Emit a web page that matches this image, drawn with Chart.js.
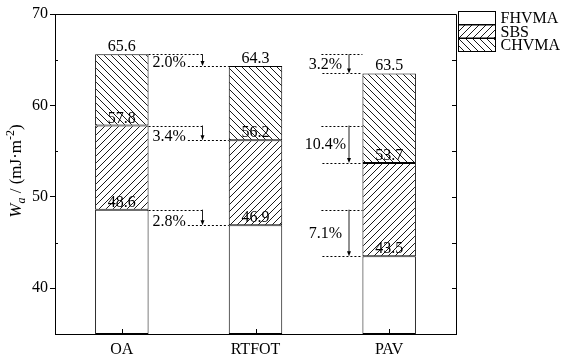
<!DOCTYPE html>
<html>
<head>
<meta charset="utf-8">
<script src="https://cdn.jsdelivr.net/npm/chart.js@4/dist/chart.umd.min.js"></script>
<style>
  html, body { margin: 0; padding: 0; background: #fff; }
  #wrap { width: 562px; height: 357px; position: relative; }
</style>
</head>
<body>
<div id="wrap"><canvas id="c"></canvas></div>
<script>
// Surface free energy components by ageing state
const categories = ['OA', 'RTFOT', 'PAV'];
const seriesNames = ['FHVMA', 'SBS', 'CHVMA'];
// cumulative height at the top of each layer (mJ·m^-2)
const fhvmaTop = [48.6, 46.9, 43.5];
const sbsTop   = [57.8, 56.2, 53.7];
const chvmaTop = [65.6, 64.3, 63.5];
const axisMin = 35;
const axisMax = 70;
const yTickValues = [40, 50, 60, 70];
// reduction relative to OA, per layer (FHVMA, SBS, CHVMA)
const rtfotChange = ['2.8%', '3.4%', '2.0%'];
const pavChange   = ['7.1%', '10.4%', '3.2%'];

const FONT = '"Liberation Serif", "Times New Roman", serif';
const layerTops = [fhvmaTop, sbsTop, chvmaTop];

function hatch(dir) {
  const s = 7;
  const cv = document.createElement('canvas');
  cv.width = s; cv.height = s;
  const g = cv.getContext('2d');
  g.fillStyle = '#fff';
  g.fillRect(0, 0, s, s);
  g.strokeStyle = '#000';
  g.lineWidth = 0.9;
  g.beginPath();
  if (dir === '/') {
    g.moveTo(-1, s + 1); g.lineTo(s + 1, -1);
    g.moveTo(-1, 1); g.lineTo(1, -1);
    g.moveTo(s - 1, s + 1); g.lineTo(s + 1, s - 1);
  } else {
    g.moveTo(-1, -1); g.lineTo(s + 1, s + 1);
    g.moveTo(-1, s - 1); g.lineTo(1, s + 1);
    g.moveTo(s - 1, -1); g.lineTo(s + 1, 1);
  }
  g.stroke();
  return g.createPattern(cv, 'repeat');
}

const fills = ['#ffffff', hatch('/'), hatch('\\')];
const lowers = [categories.map(() => axisMin), fhvmaTop, sbsTop];

const datasets = seriesNames.map((name, k) => ({
  label: name,
  data: categories.map((c, i) => [lowers[k][i], layerTops[k][i]]),
  backgroundColor: fills[k],
  borderColor: '#000',
  borderWidth: 1,
  borderSkipped: false,
  grouped: false,
  barPercentage: 0.4,
  categoryPercentage: 1.0
}));

function arrowDown(ctx, x, y0, y1) {
  ctx.save();
  ctx.setLineDash([]);
  ctx.strokeStyle = '#222';
  ctx.lineWidth = 1;
  ctx.beginPath();
  ctx.moveTo(x, y0);
  ctx.lineTo(x, y1 - 3);
  ctx.stroke();
  ctx.fillStyle = '#000';
  ctx.beginPath();
  ctx.moveTo(x - 2, y1 - 5);
  ctx.lineTo(x + 2, y1 - 5);
  ctx.lineTo(x, y1);
  ctx.closePath();
  ctx.fill();
  ctx.restore();
}

function dotted(ctx, x0, x1, y) {
  ctx.save();
  ctx.strokeStyle = '#000';
  ctx.lineWidth = 1;
  ctx.setLineDash([2, 2]);
  ctx.beginPath();
  ctx.moveTo(x0, Math.round(y) + 0.5);
  ctx.lineTo(x1, Math.round(y) + 0.5);
  ctx.stroke();
  ctx.restore();
}

const decorations = {
  id: 'decorations',
  afterDatasetsDraw(chart) {
    const ctx = chart.ctx;
    const ys = chart.scales.y;
    const xs = chart.scales.x;
    const area = chart.chartArea;
    ctx.save();

    // frame: top and right edges
    ctx.strokeStyle = '#000';
    ctx.lineWidth = 1;
    ctx.beginPath();
    ctx.moveTo(area.left, area.top + 0.5);
    ctx.lineTo(area.right + 0.5, area.top + 0.5);
    ctx.lineTo(area.right + 0.5, area.bottom);
    ctx.stroke();

    // minor ticks on the left (inward), ticks on the right (inward)
    ctx.beginPath();
    for (let v = axisMin + 10; v < axisMax; v += 10) {
      const py = Math.round(ys.getPixelForValue(v)) + 0.5;
      ctx.moveTo(area.left, py); ctx.lineTo(area.left + 3, py);
    }
    for (let v = axisMin + 5; v < axisMax; v += 5) {
      const py = Math.round(ys.getPixelForValue(v)) + 0.5;
      ctx.moveTo(area.right, py); ctx.lineTo(area.right - 4, py);
    }
    // category ticks on the bottom (inward)
    categories.forEach((c, i) => {
      const px = Math.round(xs.getPixelForValue(i)) + 0.5;
      ctx.moveTo(px, area.bottom); ctx.lineTo(px, area.bottom - 5);
    });
    ctx.stroke();

    // value labels at the top of each layer
    ctx.font = '16px ' + FONT;
    ctx.fillStyle = '#000';
    ctx.textAlign = 'center';
    ctx.textBaseline = 'alphabetic';
    layerTops.forEach((tops, k) => {
      chart.getDatasetMeta(k).data.forEach((bar, i) => {
        ctx.fillText(tops[i].toFixed(1), bar.x, bar.y - 3);
      });
    });

    // change annotations: OA -> RTFOT (between bars) and OA -> PAV (left of PAV)
    layerTops.forEach((tops, k) => {
      const bars = chart.getDatasetMeta(k).data;
      const oa = bars[0], rt = bars[1], pav = bars[2];
      const oaR = oa.x + oa.width / 2;
      const rtL = rt.x - rt.width / 2;
      const pavL = pav.x - pav.width / 2;
      const yOA = ys.getPixelForValue(tops[0]);
      const yRT = ys.getPixelForValue(tops[1]);
      const yPV = ys.getPixelForValue(tops[2]);

      dotted(ctx, oaR, oaR + 55, yOA);
      ctx.textAlign = 'left';
      ctx.textBaseline = 'alphabetic';
      const t1 = rtfotChange[k];
      ctx.fillText(t1, oaR + 4, yRT + 1);
      const w1 = ctx.measureText(t1).width;
      dotted(ctx, oaR + 6 + w1, rtL, yRT);
      arrowDown(ctx, Math.round(oaR + 53) + 0.5, yOA, yRT);

      dotted(ctx, pavL - 41, pavL, yOA);
      dotted(ctx, pavL - 40, pavL, yPV);
      arrowDown(ctx, Math.round(pavL - 13), yOA, yPV);
      ctx.textAlign = 'center';
      ctx.textBaseline = 'middle';
      ctx.fillText(pavChange[k], pavL - 37, (yOA + yPV) / 2 + 1);
    });

    // legend to the right of the plot
    ctx.textAlign = 'left';
    ctx.textBaseline = 'middle';
    chart.data.datasets.forEach((ds, k) => {
      const bx = area.right + 2.5, by = area.top - 3 + k * 13.5 + 0.5;
      ctx.fillStyle = ds.backgroundColor;
      ctx.fillRect(bx, by, 37, 13);
      ctx.strokeStyle = '#000';
      ctx.lineWidth = 1;
      ctx.strokeRect(bx, by, 37, 13);
      ctx.fillStyle = '#000';
      ctx.fillText(ds.label, bx + 42, by + 7.5);
    });

    // y-axis title: W_a / (mJ·m^-2)
    const parts = [
      { t: 'W', f: 'italic 17px ' + FONT, dy: 0 },
      { t: 'a', f: 'italic 12px ' + FONT, dy: 4 },
      { t: ' / (mJ·m', f: '17px ' + FONT, dy: 0 },
      { t: '-2', f: '12px ' + FONT, dy: -7 },
      { t: ')', f: '17px ' + FONT, dy: 0 }
    ];
    let total = 0;
    parts.forEach(p => { ctx.font = p.f; p.w = ctx.measureText(p.t).width; total += p.w; });
    ctx.translate(16, (area.top + area.bottom) / 2 - 3);
    ctx.rotate(-Math.PI / 2);
    ctx.textAlign = 'left';
    ctx.textBaseline = 'alphabetic';
    let cx = -total / 2;
    parts.forEach(p => {
      ctx.font = p.f;
      ctx.fillText(p.t, cx, 5 + p.dy);
      cx += p.w;
    });
    ctx.restore();
  }
};

new Chart(document.getElementById('c'), {
  type: 'bar',
  data: { labels: categories, datasets },
  options: {
    responsive: true,
    maintainAspectRatio: false,
    animation: false,
    layout: { padding: { left: 0, right: 106, top: 14, bottom: 0 } },
    plugins: { legend: { display: false }, tooltip: { enabled: false } },
    scales: {
      x: {
        grid: { display: false, drawTicks: false },
        border: { display: true, color: '#000', width: 1 },
        ticks: { color: '#000', padding: 6, font: { family: FONT, size: 16 } },
        afterFit(s) { s.height = 23; }
      },
      y: {
        min: axisMin,
        max: axisMax,
        grid: { display: true, drawOnChartArea: false, drawTicks: true, tickLength: 5, color: '#000' },
        border: { display: true, color: '#000', width: 1 },
        afterBuildTicks(s) { s.ticks = yTickValues.map(v => ({ value: v })); },
        ticks: { color: '#000', padding: 2, font: { family: FONT, size: 16 } },
        afterFit(s) { s.width = 55; }
      }
    }
  },
  plugins: [decorations]
});
</script>
</body>
</html>
